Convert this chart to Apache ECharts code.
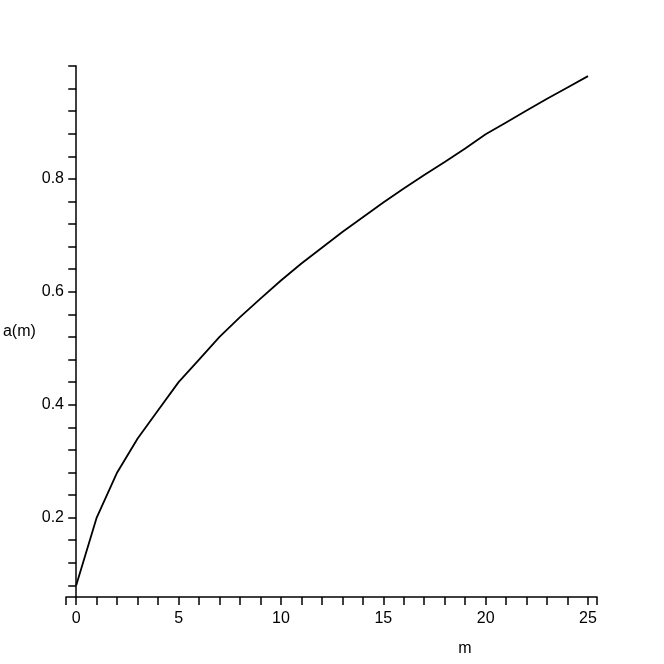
<!DOCTYPE html>
<html>
<head>
<meta charset="utf-8">
<title>a(m)</title>
<script src="https://cdn.jsdelivr.net/npm/echarts@6/dist/echarts.min.js"></script>
<style>
  html, body { margin: 0; padding: 0; background: #fff; }
  #chart { width: 664px; height: 664px; }
</style>
</head>
<body>
<div id="chart"></div>
<script>
// values
var mValues = [0, 1, 2, 3, 4, 5, 6, 7, 8, 9, 10, 11, 12, 13, 14, 15, 16, 17, 18, 19, 20, 21, 22, 23, 24, 25];
var aValues = [0.08, 0.20, 0.28, 0.34, 0.39, 0.44, 0.48, 0.52, 0.555, 0.588, 0.62, 0.65, 0.678, 0.706, 0.732, 0.758,
               0.783, 0.807, 0.83, 0.854, 0.879, 0.90, 0.921, 0.942, 0.962, 0.982];

// axis ticks / labels
var xTicks = [-0.5, 0, 1, 2, 3, 4, 5, 6, 7, 8, 9, 10, 11, 12, 13, 14, 15, 16, 17, 18, 19, 20, 21, 22, 23, 24, 25, 25.44];
var xLabels = [0, 5, 10, 15, 20, 25];
var yTicks = [0.08, 0.12, 0.16, 0.2, 0.24, 0.28, 0.32, 0.36, 0.4, 0.44, 0.48, 0.52, 0.56, 0.6,
              0.64, 0.68, 0.72, 0.76, 0.8, 0.84, 0.88, 0.92, 0.96, 1.0];
var yLabels = [0.2, 0.4, 0.6, 0.8];

var chart = echarts.init(document.getElementById('chart'));
var font = 'Liberation Sans, Arial, sans-serif';

chart.setOption({
  animation: false,
  grid: { left: 66, right: 67, top: 66, bottom: 67, containLabel: false, outerBoundsMode: 'none' },
  xAxis: {
    type: 'value',
    min: -0.5,
    max: 25.44,
    name: 'm',
    nameLocation: 'middle',
    nameGap: 44,
    nameTextStyle: { color: '#000', fontFamily: font, fontSize: 16, padding: [0, 0, 0, 267] },
    axisLine: { onZero: false, lineStyle: { color: '#000', width: 1.5 } },
    axisTick: { show: true, inside: false, length: 8, customValues: xTicks, lineStyle: { color: '#000', width: 1.5 } },
    axisLabel: { customValues: xLabels, margin: 14, color: '#000', fontFamily: font, fontSize: 16 },
    splitLine: { show: false }
  },
  yAxis: {
    type: 'value',
    min: 0.0593,
    max: 1.0,
    name: 'a(m)',
    nameLocation: 'middle',
    nameRotate: 0,
    nameGap: 29,
    nameTextStyle: { color: '#000', fontFamily: font, fontSize: 16 },
    axisLine: { show: true, onZero: true, lineStyle: { color: '#000', width: 1.5 } },
    axisTick: { show: true, inside: false, length: 8, customValues: yTicks, lineStyle: { color: '#000', width: 1.5 } },
    axisLabel: { customValues: yLabels, margin: 2, color: '#000', fontFamily: font, fontSize: 16 },
    splitLine: { show: false }
  },
  series: [{
    type: 'line',
    data: mValues.map(function (m, i) { return [m, aValues[i]]; }),
    showSymbol: false,
    lineStyle: { color: '#000', width: 1.8 },
    silent: true
  }]
});
</script>
</body>
</html>
